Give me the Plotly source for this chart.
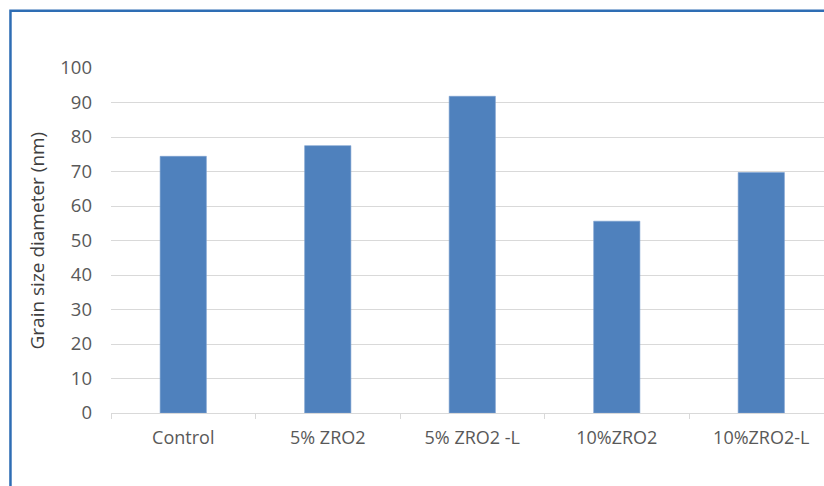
import plotly.graph_objects as go

# Grain size by sample
categories = ["Control", "5% ZRO2", "5% ZRO2 -L", "10%ZRO2", "10%ZRO2-L"]
grain_size_nm = [74.4, 77.5, 91.8, 55.6, 69.7]
y_ticks = [0, 10, 20, 30, 40, 50, 60, 70, 80, 90, 100]

FONT = "'Open Sans', 'Noto Sans', sans-serif"
BAR_BLUE = "#4f81bd"
GRID = "#d9d9d9"

fig = go.Figure(
    go.Bar(
        x=categories,
        y=grain_size_nm,
        marker=dict(color=BAR_BLUE, line=dict(color="#7a9fd0", width=0.6)),
        width=0.32,
    )
)

fig.update_layout(
    width=824,
    height=486,
    margin=dict(l=111, r=0, t=68, b=73),
    paper_bgcolor="white",
    plot_bgcolor="white",
    showlegend=False,
    font=dict(family=FONT, size=16, color="#595959"),
    xaxis=dict(
        type="category",
        range=[-0.5, 4.434],
        showgrid=False,
        showline=True,
        linecolor=GRID,
        linewidth=1,
        ticks="outside",
        tickson="boundaries",
        ticklen=5,
        tickcolor=GRID,
        ticklabelstandoff=8,
        tickfont=dict(family=FONT, size=18, color="#595959"),
    ),
    yaxis=dict(
        range=[0, 100],
        tickvals=y_ticks,
        showgrid=True,
        gridcolor=GRID,
        gridwidth=1,
        zeroline=False,
        showline=False,
        ticks="",
        ticklabelstandoff=18,
        tickfont=dict(family=FONT, size=18.5, color="#595959"),
    ),
    annotations=[
        dict(
            text="Grain size diameter (nm)",
            xref="paper", yref="paper",
            x=-0.1038, y=0.5,
            xanchor="center", yanchor="middle",
            textangle=-90,
            showarrow=False,
            font=dict(family=FONT, size=19, color="#404040"),
        )
    ],
    shapes=[
        dict(
            type="rect",
            xref="paper", yref="paper",
            x0=-0.141, x1=1.3, y0=-0.5, y1=1.166,
            line=dict(color="#2e6db4", width=2.5),
            fillcolor="rgba(0,0,0,0)",
            layer="below",
        )
    ],
)

fig.write_html("out.html")
